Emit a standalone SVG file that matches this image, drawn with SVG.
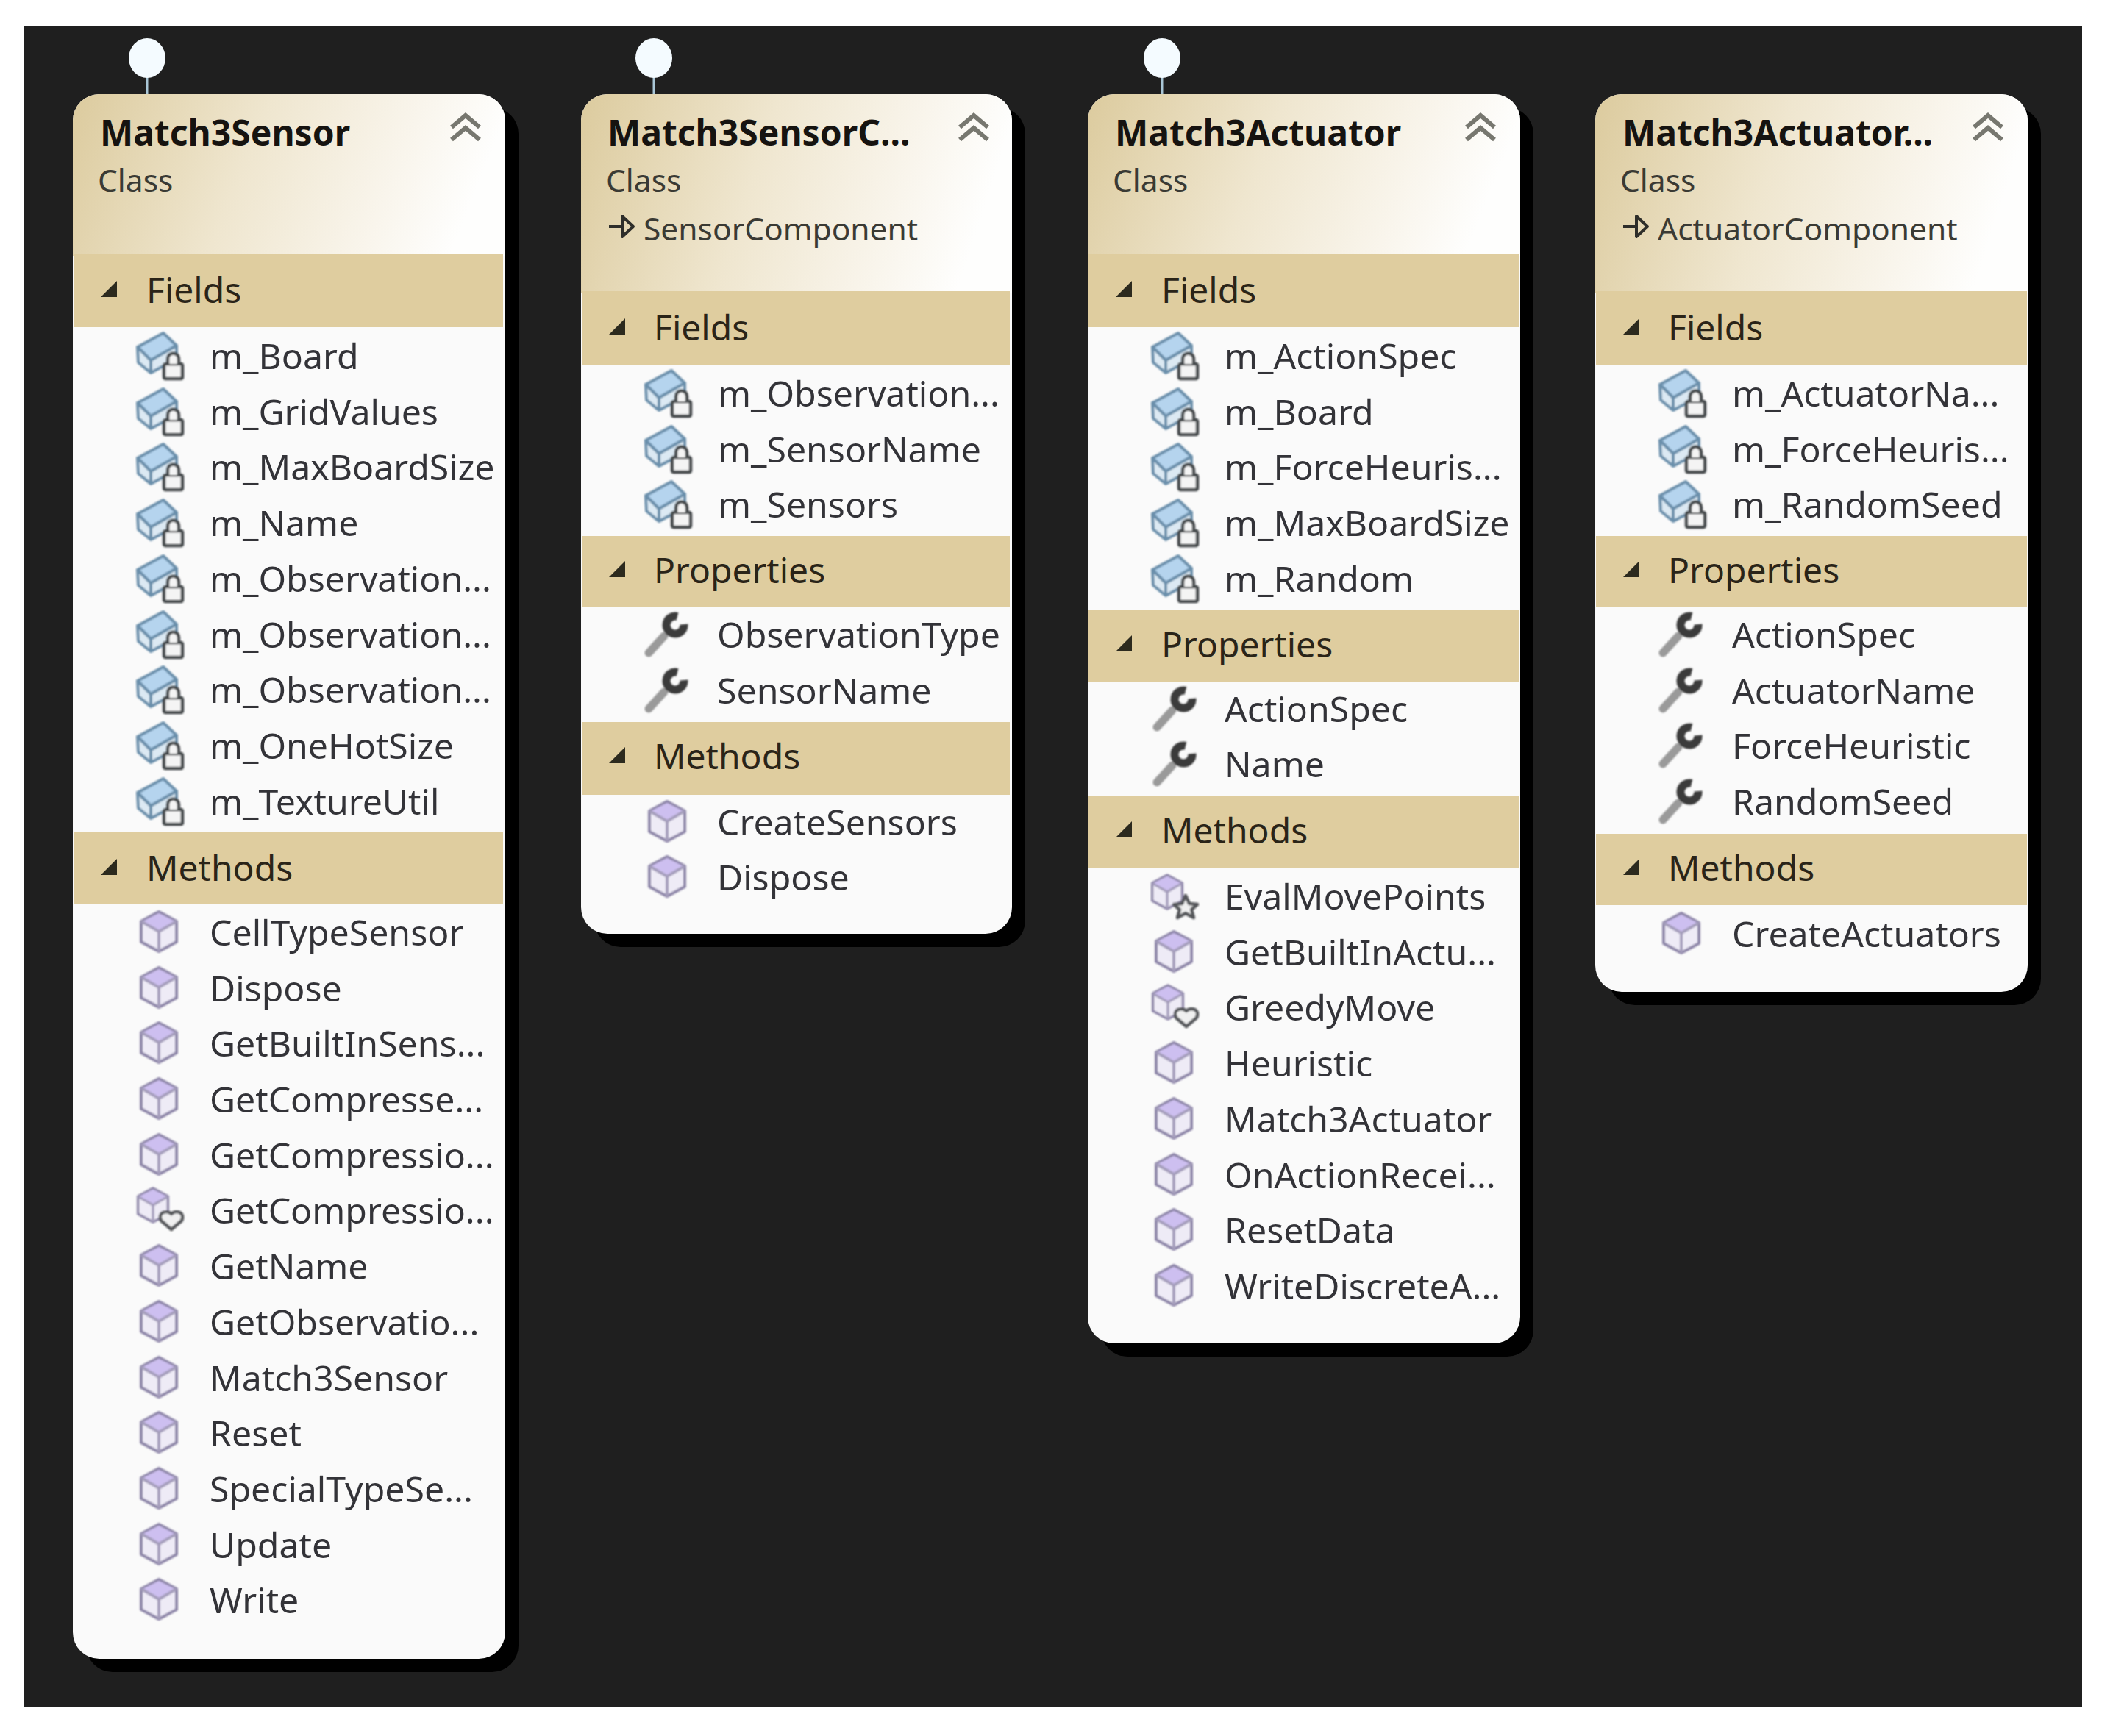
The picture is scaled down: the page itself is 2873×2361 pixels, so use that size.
<svg xmlns="http://www.w3.org/2000/svg" width="2873" height="2361" viewBox="0 0 2873 2361">
<style>
text{font-family:"Noto Sans","Open Sans","Liberation Sans",sans-serif;fill:#2b2b2b}
.t{font-size:48px;font-weight:700;fill:#161310}
.c{font-size:42.5px;fill:#3a3a34;transform:translate(-1px,-3px)}
.s{font-size:48px;fill:#2a2418;transform:translate(-1px,-2px)}
.r{font-size:48.2px;fill:#333338;transform:translate(-1px,-2px)}
.body{fill:#fafafa}
.shadow{fill:#000}
.band{fill:#dfcd9f}
.hdr{fill:url(#hdr)}
.pin{fill:#f4fbff}
.stem{stroke:#a9c6d6;stroke-width:3;fill:none}
.chev{fill:none;stroke:#77776f;stroke-width:6}
</style>
<defs>
<filter id="soft" x="-20%" y="-20%" width="140%" height="140%"><feGaussianBlur stdDeviation="0.9"/></filter>
<linearGradient id="hdr" x1="0" y1="0" x2="1" y2="0.15"><stop offset="0" stop-color="#dccb9e"/><stop offset=".45" stop-color="#efe6cf"/><stop offset=".8" stop-color="#f9f5ec"/><stop offset="1" stop-color="#fefefd"/></linearGradient>
<g id="tri"><polygon points="38,-3 60,-3 60,-25" fill="#2c2a1e"/></g>
<g id="up"><path class="chev" d="M-19,-1 L0,-17 L19,-1 M-19,16 L0,0 L19,16"/></g>
<g id="inh"><path d="M38,-20 H56 M56,-34 L71,-20 L56,-6 Z" fill="none" stroke="#2e2e2a" stroke-width="4" stroke-linejoin="round"/></g>
<g id="cubebody"><polygon points="0,-27 24,-14 24,14 0,27 -24,14 -24,-14" fill="#eeebf6" stroke="#8d85a8" stroke-width="4" stroke-linejoin="round"/><polygon points="0,-25 22,-14 0,-1 -22,-14" fill="#cdbff0"/><path d="M-24,-14 L0,0 L24,-14 M0,0 V27" fill="none" stroke="#a49dbb" stroke-width="4"/></g>
<g id="cube" filter="url(#soft)"><use href="#cubebody" y="-3"/></g>
<g id="field" filter="url(#soft)"><polygon points="-29,-14 6,-33 24,-16 -11,4" fill="#b5d4ee" stroke="#6a8fab" stroke-width="4" stroke-linejoin="round"/><path d="M-29,-14 L-28,7 L-11,21 L24,2 V-16 L-11,4 Z" fill="#dce9f3" stroke="#6a8fab" stroke-width="4" stroke-linejoin="round"/><path d="M-11,4 V21" stroke="#6a8fab" stroke-width="4"/><rect x="7" y="9" width="25" height="20" rx="2" fill="#f4f4f4" stroke="#45484b" stroke-width="4.5"/><path d="M12,9 V2 a7.500,7.500 0 0 1 15,0 V9" fill="#f4f4f4" stroke="#45484b" stroke-width="4.500"/></g>
<g id="wrench" filter="url(#soft)"><path d="M-23,23 L-2,0" stroke="#9a9a9a" stroke-width="11" stroke-linecap="round"/><path d="M16,-26.600 A12,12 0 1 0 25,-16" fill="none" stroke="#3a3a3a" stroke-width="11"/></g>
<g id="mheart" filter="url(#soft)"><use href="#cubebody" transform="translate(-8,-9) scale(.85)"/><path d="M17,24 L3,12 C-2,1 10,-3 17,3 C24,-3 36,1 31,12 Z" fill="#f0f0f0" stroke="#54575a" stroke-width="4.500" stroke-linejoin="round"/></g>
<g id="mstar" filter="url(#soft)"><use href="#cubebody" transform="translate(-9,-8) scale(.85)"/><polygon points="16,-3 21,8 32,9 24,16 27,27 16,21 5,27 8,16 0,9 11,8" fill="#f0f0f0" stroke="#54575a" stroke-width="4.500" stroke-linejoin="round"/></g>
</defs>
<rect width="2873" height="2361" fill="#fff"/>
<rect x="32" y="36" width="2799" height="2285" fill="#1f1f1f"/>

<g id="connectors">
<path class="stem" d="M200,100 V128 M889,100 V128 M1580,100 V128"/>
<ellipse class="pin" cx="200" cy="79" rx="25" ry="27"/>
<ellipse class="pin" cx="889" cy="79" rx="25" ry="27"/>
<ellipse class="pin" cx="1580" cy="79" rx="25" ry="27"/>
</g>

<g id="match3sensor" transform="translate(99,128)">
<rect class="shadow" x="18" y="18" width="588" height="2128" rx="36"/>
<rect class="body" width="588" height="2128" rx="36"/>
<path class="hdr" d="M0,220 V36 A36,36 0 0 1 36,0 H552 A36,36 0 0 1 588,36 V220 Z"/>
<text class="t" x="37" y="70">Match3Sensor</text><text class="c" x="35" y="136">Class</text>
<use href="#up" x="534" y="46"/>
<rect class="band" x="1" y="218" width="584" height="99"/><use href="#tri" y="279"/><text class="s" x="101" y="286">Fields</text>
<use href="#field" x="117" y="358"/><text class="r" x="187" y="376">m_Board</text>
<use href="#field" x="117" y="434"/><text class="r" x="187" y="452">m_GridValues</text>
<use href="#field" x="117" y="509"/><text class="r" x="187" y="527">m_MaxBoardSize</text>
<use href="#field" x="117" y="585"/><text class="r" x="187" y="603">m_Name</text>
<use href="#field" x="117" y="661"/><text class="r" x="187" y="679">m_Observation...</text>
<use href="#field" x="117" y="737"/><text class="r" x="187" y="755">m_Observation...</text>
<use href="#field" x="117" y="812"/><text class="r" x="187" y="830">m_Observation...</text>
<use href="#field" x="117" y="888"/><text class="r" x="187" y="906">m_OneHotSize</text>
<use href="#field" x="117" y="964"/><text class="r" x="187" y="982">m_TextureUtil</text>
<rect class="band" x="1" y="1004" width="584" height="97"/><use href="#tri" y="1065"/><text class="s" x="101" y="1072">Methods</text>
<use href="#cube" x="117" y="1142"/><text class="r" x="187" y="1160">CellTypeSensor</text>
<use href="#cube" x="117" y="1218"/><text class="r" x="187" y="1236">Dispose</text>
<use href="#cube" x="117" y="1293"/><text class="r" x="187" y="1311">GetBuiltInSens...</text>
<use href="#cube" x="117" y="1369"/><text class="r" x="187" y="1387">GetCompresse...</text>
<use href="#cube" x="117" y="1445"/><text class="r" x="187" y="1463">GetCompressio...</text>
<use href="#mheart" x="117" y="1520"/><text class="r" x="187" y="1538">GetCompressio...</text>
<use href="#cube" x="117" y="1596"/><text class="r" x="187" y="1614">GetName</text>
<use href="#cube" x="117" y="1672"/><text class="r" x="187" y="1690">GetObservatio...</text>
<use href="#cube" x="117" y="1748"/><text class="r" x="187" y="1766">Match3Sensor</text>
<use href="#cube" x="117" y="1823"/><text class="r" x="187" y="1841">Reset</text>
<use href="#cube" x="117" y="1899"/><text class="r" x="187" y="1917">SpecialTypeSe...</text>
<use href="#cube" x="117" y="1975"/><text class="r" x="187" y="1993">Update</text>
<use href="#cube" x="117" y="2050"/><text class="r" x="187" y="2068">Write</text>
</g>

<g id="match3sensorcomponent" transform="translate(790,128)">
<rect class="shadow" x="18" y="18" width="586" height="1142" rx="36"/>
<rect class="body" width="586" height="1142" rx="36"/>
<path class="hdr" d="M0,270 V36 A36,36 0 0 1 36,0 H550 A36,36 0 0 1 586,36 V270 Z"/>
<text class="t" x="36" y="70">Match3SensorC...</text><text class="c" x="35" y="136">Class</text>
<use href="#inh" y="200"/><text class="c" x="86" y="202">SensorComponent</text>
<use href="#up" x="534" y="46"/>
<rect class="band" x="1" y="268" width="582" height="100"/><use href="#tri" y="330"/><text class="s" x="100" y="337">Fields</text>
<use href="#field" x="117" y="409"/><text class="r" x="187" y="427">m_Observation...</text>
<use href="#field" x="117" y="485"/><text class="r" x="187" y="503">m_SensorName</text>
<use href="#field" x="117" y="560"/><text class="r" x="187" y="578">m_Sensors</text>
<rect class="band" x="1" y="601" width="582" height="97"/><use href="#tri" y="660"/><text class="s" x="100" y="667">Properties</text>
<use href="#wrench" x="115" y="737"/><text class="r" x="186" y="755">ObservationType</text>
<use href="#wrench" x="115" y="813"/><text class="r" x="186" y="831">SensorName</text>
<rect class="band" x="1" y="854" width="582" height="99"/><use href="#tri" y="913"/><text class="s" x="100" y="920">Methods</text>
<use href="#cube" x="117" y="992"/><text class="r" x="186" y="1010">CreateSensors</text>
<use href="#cube" x="117" y="1067"/><text class="r" x="186" y="1085">Dispose</text>
</g>

<g id="match3actuator" transform="translate(1479,128)">
<rect class="shadow" x="18" y="18" width="588" height="1699" rx="36"/>
<rect class="body" width="588" height="1699" rx="36"/>
<path class="hdr" d="M0,220 V36 A36,36 0 0 1 36,0 H552 A36,36 0 0 1 588,36 V220 Z"/>
<text class="t" x="37" y="70">Match3Actuator</text><text class="c" x="35" y="136">Class</text>
<use href="#up" x="534" y="46"/>
<rect class="band" x="1" y="218" width="586" height="99"/><use href="#tri" y="279"/><text class="s" x="101" y="286">Fields</text>
<use href="#field" x="117" y="358"/><text class="r" x="187" y="376">m_ActionSpec</text>
<use href="#field" x="117" y="434"/><text class="r" x="187" y="452">m_Board</text>
<use href="#field" x="117" y="509"/><text class="r" x="187" y="527">m_ForceHeuris...</text>
<use href="#field" x="117" y="585"/><text class="r" x="187" y="603">m_MaxBoardSize</text>
<use href="#field" x="117" y="661"/><text class="r" x="187" y="679">m_Random</text>
<rect class="band" x="1" y="702" width="586" height="97"/><use href="#tri" y="761"/><text class="s" x="101" y="768">Properties</text>
<use href="#wrench" x="117" y="838"/><text class="r" x="187" y="856">ActionSpec</text>
<use href="#wrench" x="117" y="913"/><text class="r" x="187" y="931">Name</text>
<rect class="band" x="1" y="955" width="586" height="97"/><use href="#tri" y="1014"/><text class="s" x="101" y="1021">Methods</text>
<use href="#mstar" x="117" y="1093"/><text class="r" x="187" y="1111">EvalMovePoints</text>
<use href="#cube" x="117" y="1169"/><text class="r" x="187" y="1187">GetBuiltInActu...</text>
<use href="#mheart" x="117" y="1244"/><text class="r" x="187" y="1262">GreedyMove</text>
<use href="#cube" x="117" y="1320"/><text class="r" x="187" y="1338">Heuristic</text>
<use href="#cube" x="117" y="1396"/><text class="r" x="187" y="1414">Match3Actuator</text>
<use href="#cube" x="117" y="1472"/><text class="r" x="187" y="1490">OnActionRecei...</text>
<use href="#cube" x="117" y="1547"/><text class="r" x="187" y="1565">ResetData</text>
<use href="#cube" x="117" y="1623"/><text class="r" x="187" y="1641">WriteDiscreteA...</text>
</g>

<g id="match3actuatorcomponent" transform="translate(2169,128)">
<rect class="shadow" x="18" y="18" width="588" height="1221" rx="36"/>
<rect class="body" width="588" height="1221" rx="36"/>
<path class="hdr" d="M0,270 V36 A36,36 0 0 1 36,0 H552 A36,36 0 0 1 588,36 V270 Z"/>
<text class="t" x="37" y="70">Match3Actuator...</text><text class="c" x="35" y="136">Class</text>
<use href="#inh" y="200"/><text class="c" x="86" y="202">ActuatorComponent</text>
<use href="#up" x="534" y="46"/>
<rect class="band" x="1" y="268" width="586" height="100"/><use href="#tri" y="330"/><text class="s" x="100" y="337">Fields</text>
<use href="#field" x="117" y="409"/><text class="r" x="187" y="427">m_ActuatorNa...</text>
<use href="#field" x="117" y="485"/><text class="r" x="187" y="503">m_ForceHeuris...</text>
<use href="#field" x="117" y="560"/><text class="r" x="187" y="578">m_RandomSeed</text>
<rect class="band" x="1" y="601" width="586" height="97"/><use href="#tri" y="660"/><text class="s" x="100" y="667">Properties</text>
<use href="#wrench" x="115" y="737"/><text class="r" x="187" y="755">ActionSpec</text>
<use href="#wrench" x="115" y="813"/><text class="r" x="187" y="831">ActuatorName</text>
<use href="#wrench" x="115" y="888"/><text class="r" x="187" y="906">ForceHeuristic</text>
<use href="#wrench" x="115" y="964"/><text class="r" x="187" y="982">RandomSeed</text>
<rect class="band" x="1" y="1006" width="586" height="97"/><use href="#tri" y="1065"/><text class="s" x="100" y="1072">Methods</text>
<use href="#cube" x="117" y="1144"/><text class="r" x="187" y="1162">CreateActuators</text>
</g>
</svg>
